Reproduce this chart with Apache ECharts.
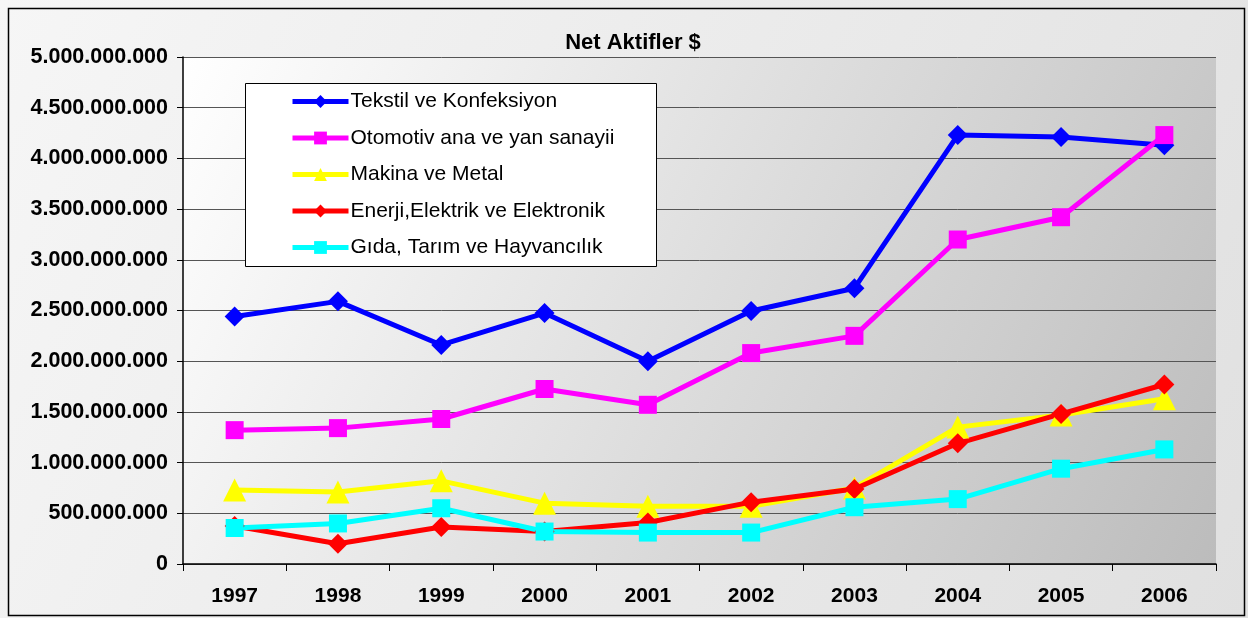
<!DOCTYPE html>
<html>
<head>
<meta charset="utf-8">
<script src="https://cdn.jsdelivr.net/npm/echarts@6/dist/echarts.min.js"></script>
<style>
  html, body { margin: 0; padding: 0; background: #fff; }
  #chart { width: 1248px; height: 618px; }
</style>
</head>
<body>
<div id="chart"></div>
<script>
const years = ['1997', '1998', '1999', '2000', '2001', '2002', '2003', '2004', '2005', '2006'];
const tekstil = [2440000000, 2590000000, 2160000000, 2475000000, 2000000000, 2495000000, 2720000000, 4230000000, 4210000000, 4130000000];
const otomotiv = [1320000000, 1340000000, 1430000000, 1726000000, 1570000000, 2080000000, 2250000000, 3200000000, 3420000000, 4230000000];
const makina = [730000000, 710000000, 820000000, 600000000, 570000000, 570000000, 750000000, 1350000000, 1470000000, 1630000000];
const enerji = [375000000, 200000000, 365000000, 320000000, 410000000, 610000000, 740000000, 1190000000, 1480000000, 1770000000];
const gida = [355000000, 400000000, 550000000, 320000000, 310000000, 310000000, 560000000, 640000000, 940000000, 1130000000];

const seriesNames = ['Tekstil ve Konfeksiyon', 'Otomotiv ana ve yan sanayii', 'Makina ve Metal', 'Enerji,Elektrik ve Elektronik', 'Gıda, Tarım ve Hayvancılık'];

// 5000000000 -> 5.000.000.000
const fmt = (v) => v === 0 ? '0' : String(v).replace(/\B(?=(\d{3})+(?!\d))/g, '.');

const chart = echarts.init(document.getElementById('chart'));

const mk = (name, data, color, symbol, size) => ({
    name: name,
    type: 'line',
    data: data,
    symbol: symbol,
    symbolSize: size,
    lineStyle: { color: color, width: 5 },
    itemStyle: { color: color },
    animation: false
});

chart.setOption({
    backgroundColor: new echarts.graphic.LinearGradient(0, 0, 1, 1, [
        { offset: 0, color: '#f6f6f6' }, { offset: 1, color: '#e0e0e0' }
    ]),
    textStyle: { fontFamily: 'Liberation Sans, Arial, sans-serif' },
    title: {
        text: 'Net Aktifler $',
        left: 628, top: 27, textAlign: 'center',
        textStyle: { fontSize: 22, fontWeight: 'bold', color: '#000' }
    },
    graphic: [{
        type: 'rect', left: 6, top: 6, silent: true,
        shape: { width: 1236, height: 607 },
        style: { fill: null, stroke: '#000', lineWidth: 1.5 }
    }, {
        // legend frame
        type: 'rect', left: 245, top: 83, silent: true, z: 3,
        shape: { width: 411, height: 183 },
        style: { fill: '#fff', stroke: '#000', lineWidth: 1 }
    }],
    legend: {
        orient: 'vertical',
        left: 290, top: 91,
        padding: 0,
        itemGap: 15.5,
        itemWidth: 56, itemHeight: 16,
        z: 4,
        lineStyle: { width: 5 },
        textStyle: { fontSize: 21, color: '#000', padding: [0, 0, 0, -3] },
        data: seriesNames
    },
    grid: {
        left: 183, right: 32, top: 57, bottom: 54,
        show: true,
        borderWidth: 0,
        backgroundColor: new echarts.graphic.LinearGradient(0, 0, 1, 1, [
            { offset: 0, color: '#ffffff' }, { offset: 1, color: '#bcbcbc' }
        ])
    },
    xAxis: {
        type: 'category',
        data: years,
        boundaryGap: true,
        axisLine: { lineStyle: { color: '#000', width: 1.5 } },
        axisTick: { show: true, alignWithLabel: false, length: 7, lineStyle: { color: '#000' } },
        axisLabel: { fontSize: 21, fontWeight: 'bold', color: '#000', margin: 22 }
    },
    yAxis: {
        type: 'value',
        min: 0, max: 5000000000, interval: 500000000,
        axisLine: { show: true, lineStyle: { color: '#000', width: 1.5 } },
        axisTick: { show: true, length: 6, lineStyle: { color: '#000' } },
        axisLabel: { fontSize: 21.5, fontWeight: 'bold', color: '#000', margin: 15, formatter: fmt },
        splitLine: { lineStyle: { color: '#555', width: 1 } }
    },
    series: [
        mk(seriesNames[0], tekstil, '#0000ff', 'diamond', 20),
        mk(seriesNames[1], otomotiv, '#ff00ff', 'rect', 18),
        mk(seriesNames[2], makina, '#ffff00', 'triangle', 23),
        mk(seriesNames[3], enerji, '#ff0000', 'diamond', 20),
        mk(seriesNames[4], gida, '#00ffff', 'rect', 18)
    ]
});
</script>
</body>
</html>
